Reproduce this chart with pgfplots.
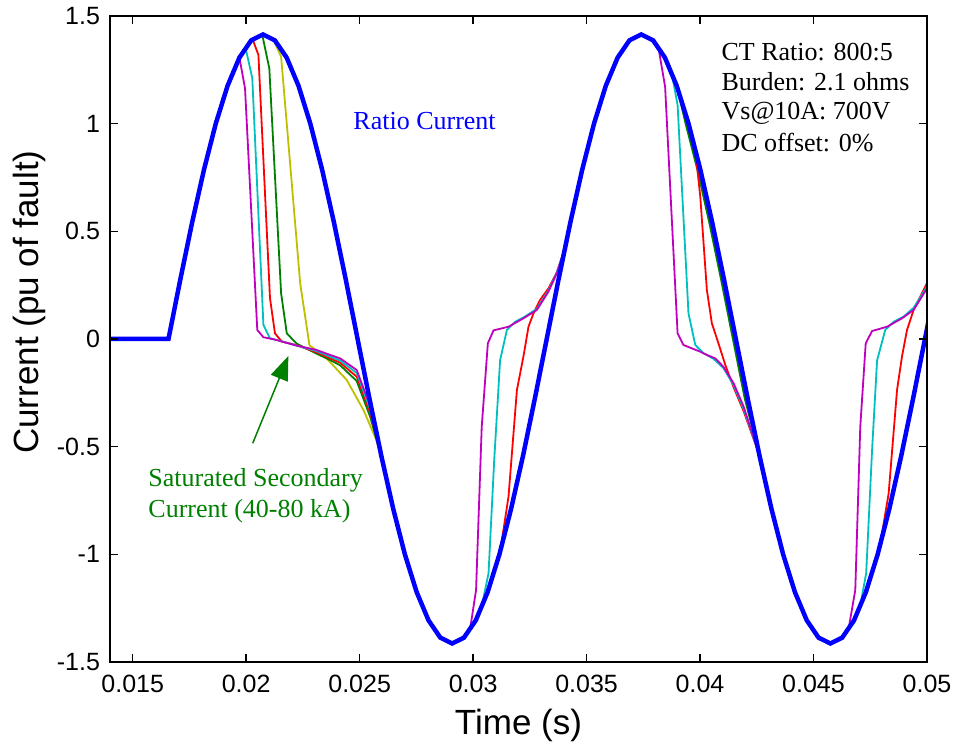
\documentclass[border=0pt]{standalone}
\usepackage{fontspec}
\setmainfont{Liberation Serif}
\newfontfamily\arial{Liberation Sans}
\usepackage{pgfplots}
\pgfplotsset{compat=1.18}
\usetikzlibrary{arrows.meta}

\definecolor{mgreen}{rgb}{0,0.5,0}
\definecolor{mmag}{rgb}{0.75,0,0.75}
\definecolor{mcyan}{rgb}{0,0.75,0.75}
\definecolor{myel}{rgb}{0.75,0.75,0}

\begin{document}
\begin{tikzpicture}
\begin{axis}[
  scale only axis,
  width=408.5pt, height=323pt,
  xmin=0.014, xmax=0.05, ymin=-1.5, ymax=1.5,
  xtick={0.015,0.02,0.025,0.03,0.035,0.04,0.045,0.05},
  ytick={-1.5,-1,-0.5,0,0.5,1,1.5},
  scaled x ticks=false,
  /pgf/number format/assume math mode=true,
  xticklabel style={/pgf/number format/fixed,/pgf/number format/precision=3,yshift=-3pt},
  yticklabel style={xshift=-1.5pt},
  tick label style={font=\arial\fontsize{12.5}{14}\selectfont},
  tick align=inside, tick pos=both,
  major tick length=4pt,
  tick style={black,line width=0.8pt},
  axis line style={black,line width=1pt},
  axis on top,
  xlabel={Time (s)},
  ylabel={Current (pu of fault)},
  label style={font=\arial\fontsize{17.5}{20}\selectfont},
  xlabel style={at={(axis description cs:0.5,-0.0975)},anchor=center},
  ylabel style={at={(axis description cs:-0.098,0.557)},anchor=center},
]
\coordinate (bl) at (rel axis cs:0,0);
\coordinate (tr) at (rel axis cs:1,1);

% secondary currents, one per fault level
\addplot[myel,line width=0.9pt] coordinates {
(0.014,0)(0.016577,0)(0.017098,0.2759)(0.017619,0.5412)(0.018140,0.7857)(0.018660,1.0)(0.019181,1.1759)(0.019702,1.3066)(0.020223,1.3870)(0.020744,1.4142)
(0.0212,1.390)(0.02154,1.311)(0.02238,0.259)(0.02279,-0.03)
(0.0234,-0.074)(0.02443,-0.19)(0.02517,-0.33)(0.02570,-0.46)
(0.025952,-0.5412)(0.026473,-0.7857)(0.026993,-1.0)(0.027514,-1.1759)(0.028035,-1.3066)(0.028556,-1.3870)(0.029077,-1.4142)(0.029597,-1.3870)(0.030118,-1.3066)(0.030639,-1.1759)(0.031160,-1.0)(0.031681,-0.7857)(0.032202,-0.5412)(0.032722,-0.2759)(0.033243,0)(0.033764,0.2759)(0.034285,0.5412)(0.034806,0.7857)(0.035327,1.0)(0.035847,1.1759)(0.036368,1.3066)(0.036889,1.3870)(0.037410,1.4142)(0.037931,1.3870)(0.038452,1.3066)(0.038972,1.1759)
(0.039403,1.0)(0.039924,0.7857)(0.040445,0.5412)(0.040966,0.2759)(0.041487,0)(0.042007,-0.2759)
(0.042618,-0.5412)(0.043139,-0.7857)(0.043660,-1.0)(0.044181,-1.1759)(0.044702,-1.3066)(0.045222,-1.3870)(0.045743,-1.4142)(0.046264,-1.3870)(0.046785,-1.3066)(0.047306,-1.1759)(0.047827,-1.0)(0.048347,-0.7857)(0.048868,-0.5412)(0.049389,-0.2759)(0.049910,0)(0.050431,0.2759)
};
\addplot[mgreen,line width=0.9pt] coordinates {
(0.014,0)(0.016577,0)(0.017098,0.2759)(0.017619,0.5412)(0.018140,0.7857)(0.018660,1.0)(0.019181,1.1759)(0.019702,1.3066)(0.020223,1.3870)
(0.02071,1.412)(0.02102,1.257)(0.02154,0.212)(0.02179,0.026)(0.02223,-0.022)
(0.0231,-0.068)(0.0237,-0.098)(0.02414,-0.122)(0.02487,-0.195)(0.02546,-0.36)
(0.025952,-0.5412)(0.026473,-0.7857)(0.026993,-1.0)(0.027514,-1.1759)(0.028035,-1.3066)(0.028556,-1.3870)(0.029077,-1.4142)(0.029597,-1.3870)(0.030118,-1.3066)(0.030639,-1.1759)(0.031160,-1.0)(0.031681,-0.7857)(0.032202,-0.5412)(0.032722,-0.2759)(0.033243,0)(0.033764,0.2759)(0.034285,0.5412)(0.034806,0.7857)(0.035327,1.0)(0.035847,1.1759)(0.036368,1.3066)(0.036889,1.3870)(0.037410,1.4142)(0.037931,1.3870)(0.038452,1.3066)(0.038972,1.1759)
(0.039363,1.0)(0.039884,0.7857)(0.040405,0.5412)(0.040926,0.2759)(0.041447,0)(0.041967,-0.2759)
(0.042618,-0.5412)(0.043139,-0.7857)(0.043660,-1.0)(0.044181,-1.1759)(0.044702,-1.3066)(0.045222,-1.3870)(0.045743,-1.4142)(0.046264,-1.3870)(0.046785,-1.3066)(0.047306,-1.1759)(0.047827,-1.0)(0.048347,-0.7857)(0.048868,-0.5412)(0.049389,-0.2759)(0.049910,0)(0.050431,0.2759)
};
\addplot[red,line width=0.9pt] coordinates {
(0.014,0)(0.016577,0)(0.017098,0.2759)(0.017619,0.5412)(0.018140,0.7857)(0.018660,1.0)(0.019181,1.1759)(0.019702,1.3066)(0.020223,1.3870)
(0.02029,1.390)(0.02054,1.319)(0.02105,0.189)(0.02127,0.026)(0.02157,-0.012)
(0.0222,-0.028)(0.0231,-0.062)(0.0237,-0.090)(0.02414,-0.110)(0.02487,-0.175)(0.02546,-0.34)
(0.025952,-0.5412)(0.026473,-0.7857)(0.026993,-1.0)(0.027514,-1.1759)(0.028035,-1.3066)(0.028556,-1.3870)(0.029077,-1.4142)(0.029597,-1.3870)(0.030118,-1.3066)(0.030639,-1.1759)(0.031160,-1.0)
(0.03119,-0.988)(0.03156,-0.732)(0.03193,-0.237)(0.03222,-0.08)(0.03244,0.057)(0.03266,0.119)(0.03295,0.181)(0.03332,0.235)(0.03369,0.31)(0.03398,0.40)
(0.034285,0.5412)(0.034806,0.7857)(0.035327,1.0)(0.035847,1.1759)(0.036368,1.3066)(0.036889,1.3870)(0.037410,1.4142)(0.037931,1.3870)(0.038452,1.3066)(0.038972,1.1759)(0.039493,1.0)
(0.03979,0.878)(0.04001,0.661)(0.0403,0.228)(0.04052,0.073)(0.04081,-0.02)(0.04111,-0.12)(0.04148,-0.225)(0.04192,-0.335)
(0.042618,-0.5412)(0.043139,-0.7857)(0.043660,-1.0)(0.044181,-1.1759)(0.044702,-1.3066)(0.045222,-1.3870)(0.045743,-1.4142)(0.046264,-1.3870)(0.046785,-1.3066)(0.047306,-1.1759)(0.047827,-1.0)
(0.04794,-0.953)(0.04831,-0.717)(0.04868,-0.237)(0.0489,-0.08)(0.04912,0.042)(0.04941,0.135)(0.0500,0.259)
};
\addplot[mcyan,line width=0.9pt] coordinates {
(0.014,0)(0.016577,0)(0.017098,0.2759)(0.017619,0.5412)(0.018140,0.7857)(0.018660,1.0)(0.019181,1.1759)(0.019702,1.3066)
(0.01998,1.349)(0.02027,1.211)(0.02076,0.065)(0.02105,0.003)(0.0214,-0.006)
(0.0222,-0.030)(0.0231,-0.056)(0.0237,-0.082)(0.02414,-0.100)(0.02487,-0.158)(0.02546,-0.325)
(0.025952,-0.5412)(0.026473,-0.7857)(0.026993,-1.0)(0.027514,-1.1759)(0.028035,-1.3066)(0.028556,-1.3870)(0.029077,-1.4142)(0.029597,-1.3870)(0.030118,-1.3066)
(0.03038,-1.241)(0.03068,-1.088)(0.03093,-0.562)(0.03119,-0.098)(0.03149,0.042)(0.03185,0.08)(0.03222,0.10)(0.03281,0.14)(0.03332,0.225)(0.03369,0.31)(0.03398,0.40)
(0.034285,0.5412)(0.034806,0.7857)(0.035327,1.0)(0.035847,1.1759)(0.036368,1.3066)(0.036889,1.3870)(0.037410,1.4142)(0.037931,1.3870)(0.038452,1.3066)
(0.03876,1.229)(0.03901,1.087)(0.03949,0.119)(0.03979,-0.028)(0.04015,-0.066)(0.04059,-0.092)(0.04103,-0.135)(0.04148,-0.215)(0.04192,-0.325)
(0.042618,-0.5412)(0.043139,-0.7857)(0.043660,-1.0)(0.044181,-1.1759)(0.044702,-1.3066)(0.045222,-1.3870)(0.045743,-1.4142)(0.046264,-1.3870)(0.046785,-1.3066)
(0.04706,-1.237)(0.04732,-1.088)(0.04758,-0.516)(0.0478,-0.10)(0.04816,0.042)(0.04853,0.08)(0.04897,0.104)(0.04941,0.145)(0.0500,0.243)
};
\addplot[mmag,line width=0.9pt] coordinates {
(0.014,0)(0.016577,0)(0.017098,0.2759)(0.017619,0.5412)(0.018140,0.7857)(0.018660,1.0)(0.019181,1.1759)(0.019702,1.3066)
(0.01995,1.164)(0.02049,0.042)(0.02076,0.008)(0.0212,-0.001)
(0.0222,-0.030)(0.0231,-0.051)(0.0237,-0.074)(0.02414,-0.090)(0.02487,-0.144)(0.02546,-0.31)
(0.025952,-0.5412)(0.026473,-0.7857)(0.026993,-1.0)(0.027514,-1.1759)(0.028035,-1.3066)(0.028556,-1.3870)(0.029077,-1.4142)(0.029597,-1.3870)
(0.02987,-1.345)(0.03013,-1.166)(0.03038,-0.407)(0.03065,-0.02)(0.0309,0.04)(0.03156,0.057)(0.03222,0.096)(0.03281,0.135)(0.03332,0.22)(0.03369,0.305)(0.03398,0.40)
(0.034285,0.5412)(0.034806,0.7857)(0.035327,1.0)(0.035847,1.1759)(0.036368,1.3066)(0.036889,1.3870)(0.037410,1.4142)(0.037931,1.3870)
(0.03817,1.350)(0.03846,1.172)(0.03901,0.026)(0.03927,-0.028)(0.04001,-0.059)(0.04030,-0.074)(0.04067,-0.09)(0.04103,-0.129)(0.04148,-0.206)(0.04192,-0.314)
(0.042618,-0.5412)(0.043139,-0.7857)(0.043660,-1.0)(0.044181,-1.1759)(0.044702,-1.3066)(0.045222,-1.3870)(0.045743,-1.4142)(0.046264,-1.3870)
(0.04655,-1.343)(0.04684,-1.166)(0.04706,-0.407)(0.04730,-0.02)(0.04758,0.037)(0.04824,0.057)(0.0489,0.096)(0.04941,0.135)(0.0500,0.235)
};
% ratio current
\addplot[blue,line width=2.25pt] coordinates {
(0.014,0)(0.016577,0)(0.017098,0.2759)(0.017619,0.5412)(0.018140,0.7857)(0.018660,1.0)(0.019181,1.1759)(0.019702,1.3066)(0.020223,1.3870)(0.020744,1.4142)(0.021264,1.3870)(0.021785,1.3066)(0.022306,1.1759)(0.022827,1.0)(0.023348,0.7857)(0.023868,0.5412)(0.024389,0.2759)(0.024910,0)
(0.025431,-0.2759)(0.025952,-0.5412)(0.026473,-0.7857)(0.026993,-1.0)(0.027514,-1.1759)(0.028035,-1.3066)(0.028556,-1.3870)(0.029077,-1.4142)(0.029597,-1.3870)(0.030118,-1.3066)(0.030639,-1.1759)(0.031160,-1.0)(0.031681,-0.7857)(0.032202,-0.5412)(0.032722,-0.2759)(0.033243,0)
(0.033764,0.2759)(0.034285,0.5412)(0.034806,0.7857)(0.035327,1.0)(0.035847,1.1759)(0.036368,1.3066)(0.036889,1.3870)(0.037410,1.4142)(0.037931,1.3870)(0.038452,1.3066)(0.038972,1.1759)(0.039493,1.0)(0.040014,0.7857)(0.040535,0.5412)(0.041056,0.2759)(0.041577,0)
(0.042097,-0.2759)(0.042618,-0.5412)(0.043139,-0.7857)(0.043660,-1.0)(0.044181,-1.1759)(0.044702,-1.3066)(0.045222,-1.3870)(0.045743,-1.4142)(0.046264,-1.3870)(0.046785,-1.3066)(0.047306,-1.1759)(0.047827,-1.0)(0.048347,-0.7857)(0.048868,-0.5412)(0.049389,-0.2759)(0.049910,0)(0.050431,0.2759)
};

\node[anchor=base west,blue,font=\fontsize{13}{15}\selectfont,inner sep=0pt] at (axis cs:0.02471,0.971) {Ratio Current};
\node[anchor=base west,font=\fontsize{13}{15}\selectfont,inner sep=0pt] at (axis cs:0.040933,1.291) {CT Ratio: 800:5};
\node[anchor=base west,font=\fontsize{13}{15}\selectfont,inner sep=0pt] at (axis cs:0.040933,1.153) {Burden: 2.1 ohms};
\node[anchor=base west,font=\fontsize{13}{15}\selectfont,inner sep=0pt] at (axis cs:0.040933,1.017) {Vs@10A: 700V};
\node[anchor=base west,font=\fontsize{13}{15}\selectfont,inner sep=0pt] at (axis cs:0.040933,0.870) {DC offset: 0\%};
\node[anchor=base west,mgreen,font=\fontsize{13}{15}\selectfont,inner sep=0pt] at (axis cs:0.015675,-0.687) {Saturated Secondary};
\node[anchor=base west,mgreen,font=\fontsize{13}{15}\selectfont,inner sep=0pt] at (axis cs:0.015675,-0.827) {Current (40-80 kA)};
\draw[mgreen,line width=0.75pt,-{Triangle[length=12pt,width=9pt]}] (axis cs:0.02029,-0.484) -- (axis cs:0.02186,-0.079);
\end{axis}
\pgfresetboundingbox
\path[use as bounding box] ([shift={(-55pt,-42.5pt)}]bl) rectangle ([shift={(19pt,8pt)}]tr);
\end{tikzpicture}
\end{document}
